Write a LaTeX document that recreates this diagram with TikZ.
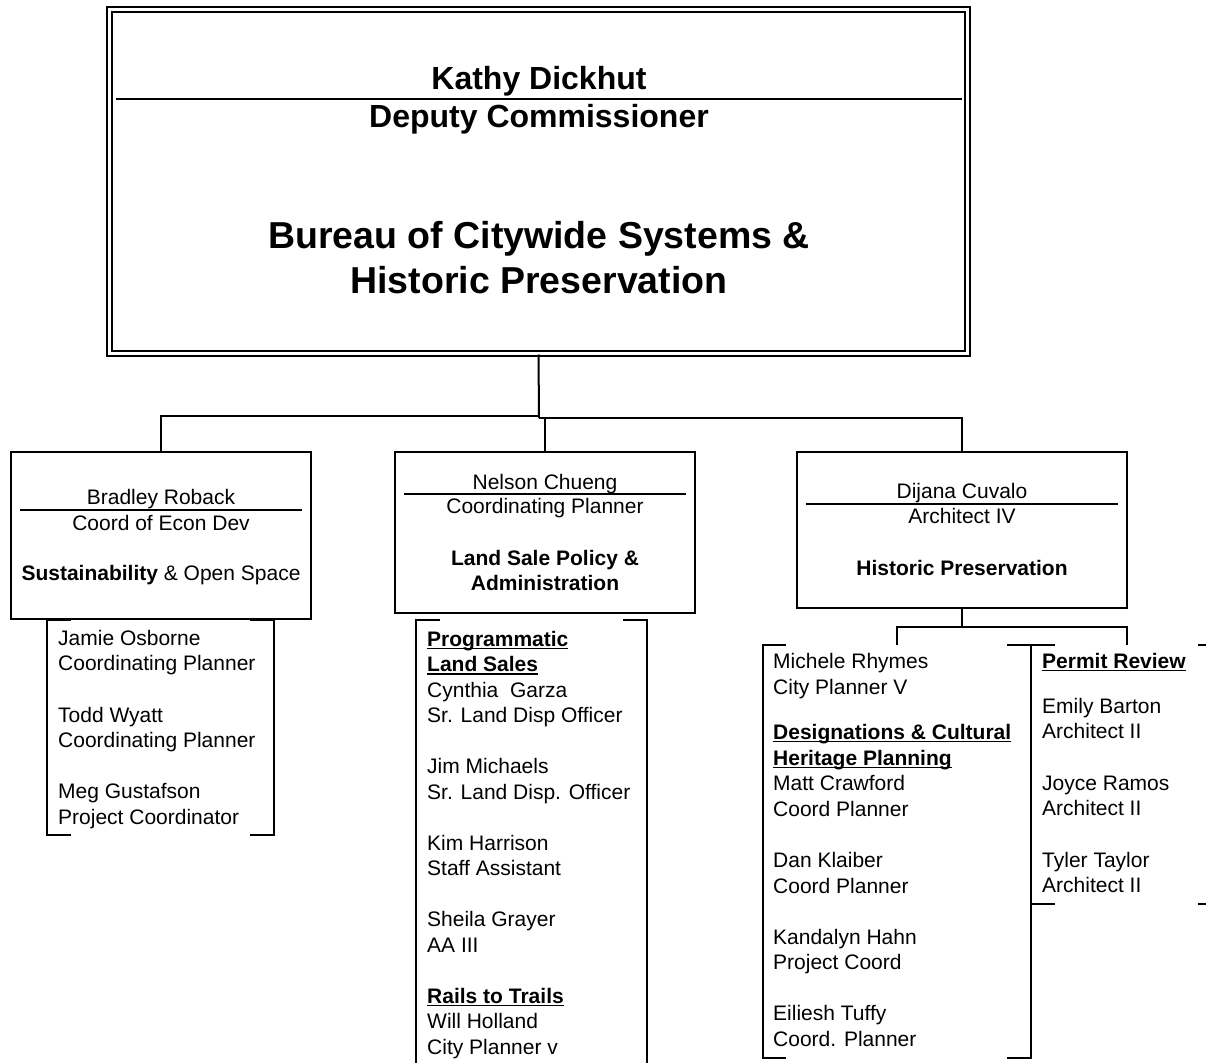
\documentclass[tikz,border=0pt]{standalone}
\usepackage{fontspec}
\setmainfont{Liberation Sans}
\newcommand\myul[1]{\setbox0=\hbox{#1}\rlap{\rule[-3pt]{\wd0}{1.4pt}}\box0}
\newcommand\Ln[4]{\node[txt] (#1) at (#2,#3) {#4};}
\begin{document}
\begin{tikzpicture}[x=1pt,y=-1pt,
  box/.style={draw,line width=2pt,inner sep=0pt},
  topbox/.style={draw,line width=2pt,double,double distance=3pt,inner sep=0pt},
  conn/.style={line width=2pt},
  sepline/.style={line width=1.4pt},
  br/.style={line width=2pt},
  txt/.style={anchor=base west,inner sep=0pt,font=\fontsize{21}{25}\selectfont},
  ctxt/.style={anchor=base,inner sep=0pt,font=\fontsize{21}{25}\selectfont},
  bigtxt/.style={anchor=base,inner sep=0pt,font=\bfseries\fontsize{32}{36}\selectfont},
  hugetxt/.style={anchor=base,inner sep=0pt,font=\bfseries\fontsize{37.5}{42}\selectfont}]
\useasboundingbox (0,0) rectangle (1206,1062);
\clip (0,0) rectangle (1206,1062);

% boxes
\node[topbox,minimum width=858pt,minimum height=344pt] (top) at (538.5,181.5) {};
\node[box,minimum width=300pt,minimum height=167pt] (lb) at (161,535.5) {};
\node[box,minimum width=300pt,minimum height=161pt] (mb) at (545,532.5) {};
\node[box,minimum width=330pt,minimum height=156pt] (rb) at (962,530) {};

% top box text
\node[bigtxt] (t1) at (539,90) {Kathy Dickhut};
\draw[sepline] (116,99) -- (962,99);
\node[bigtxt] (t2) at (539,128) {Deputy Commissioner};
\node[hugetxt] (t3) at (539,248) {Bureau of Citywide Systems \&};
\node[hugetxt] (t4) at (539,293) {Historic Preservation};

% connectors
\coordinate (j1) at (539,416);
\coordinate (j2) at (539,418);
\draw[conn] (top.south) -- (j2);
\draw[conn] (lb.north) |- (j1);
\draw[conn] (j2) -| (rb.north);
\draw[conn] (mb.north) -- (mb.north |- j2);
\coordinate (rj) at (962,627);
\coordinate (b1) at (897,645);
\coordinate (b2) at (1127,645);
\draw[conn] (rb.south) -- (rj);
\draw[conn] (b1) |- (rj) -| (b2);

% left box text
\node[ctxt] (l1) at (161,504) {Bradley Roback};
\draw[sepline] (20,510) -- (302,510);
\node[ctxt] (l2) at (161,530) {Coord of Econ Dev};
\node[ctxt] (l3) at (161,580) {\textbf{Sustainability} \& Open Space};

% middle box text
\node[ctxt] (m1) at (545,489) {Nelson Chueng};
\draw[sepline] (404,494) -- (686,494);
\node[ctxt] (m2) at (545,513) {Coordinating Planner};
\node[ctxt] (m3) at (545,565) {\textbf{Land Sale Policy \&}};
\node[ctxt] (m4) at (545,590) {\textbf{Administration}};

% right box text
\node[ctxt] (r1) at (962,498) {Dijana Cuvalo};
\draw[sepline] (806,504) -- (1118,504);
\node[ctxt] (r2) at (962,523) {Architect IV};
\node[ctxt] (r3) at (962,575) {\textbf{Historic Preservation}};

% brackets
\draw[br] (71,620) -| (47,835) -- (71,835);
\draw[br] (250,620) -| (274,835) -- (250,835);
\draw[br] (440,620) -| (416,1070);
\draw[br] (623,620) -| (647,1070);
\draw[br] (786,645) -| (763,1058) -- (786,1058);
\draw[br] (1007,645) -| (1031,1058) -- (1007,1058);
\draw[br] (1055,645) -| (1031,904) -- (1055,904);
\draw[br] (1198,645) -| (1222,904) -- (1198,904);

% left staff
\Ln{a1}{58}{645}{Jamie Osborne}
\Ln{a2}{58}{670.6}{Coordinating Planner}
\Ln{a3}{58}{722}{Todd Wyatt}
\Ln{a4}{58}{747.6}{Coordinating Planner}
\Ln{a5}{58}{798.6}{Meg Gustafson}
\Ln{a6}{58}{824}{Project Coordinator}

% middle staff
\Ln{c1}{427}{646}{\myul{\textbf{Programmatic}}}
\Ln{c2}{427}{671.5}{\myul{\textbf{Land Sales}}}
\Ln{c3}{427}{697}{Cynthia\ \ Garza}
\Ln{c4}{427}{722.5}{Sr. Land Disp Officer}
\Ln{c5}{427}{773.5}{Jim Michaels}
\Ln{c6}{427}{799}{Sr. Land Disp. Officer}
\Ln{c7}{427}{850}{Kim Harrison}
\Ln{c8}{427}{875.5}{Staff Assistant}
\Ln{c9}{427}{926.5}{Sheila Grayer}
\Ln{c10}{427}{952}{AA III}
\Ln{c11}{427}{1003}{\myul{\textbf{Rails to Trails}}}
\Ln{c12}{427}{1028.5}{Will Holland}
\Ln{c13}{427}{1054}{City Planner v}

% right staff 1
\Ln{d1}{773}{668}{Michele Rhymes}
\Ln{d2}{773}{694}{City Planner V}
\Ln{d3}{773}{739}{\myul{\textbf{Designations \& Cultural}}}
\Ln{d4}{773}{765}{\myul{\textbf{Heritage Planning}}}
\Ln{d5}{773}{790}{Matt Crawford}
\Ln{d6}{773}{816}{Coord Planner}
\Ln{d7}{773}{867}{Dan Klaiber}
\Ln{d8}{773}{893}{Coord Planner}
\Ln{d9}{773}{944}{Kandalyn Hahn}
\Ln{d10}{773}{969.5}{Project Coord}
\Ln{d11}{773}{1020}{Eiliesh Tuffy}
\Ln{d12}{773}{1046}{Coord. Planner}

% right staff 2
\Ln{e1}{1042}{668}{\myul{\textbf{Permit Review}}}
\Ln{e2}{1042}{713}{Emily Barton}
\Ln{e3}{1042}{738.5}{Architect II}
\Ln{e4}{1042}{790}{Joyce Ramos}
\Ln{e5}{1042}{815.5}{Architect II}
\Ln{e6}{1042}{867}{Tyler Taylor}
\Ln{e7}{1042}{892.5}{Architect II}
\end{tikzpicture}
\end{document}
